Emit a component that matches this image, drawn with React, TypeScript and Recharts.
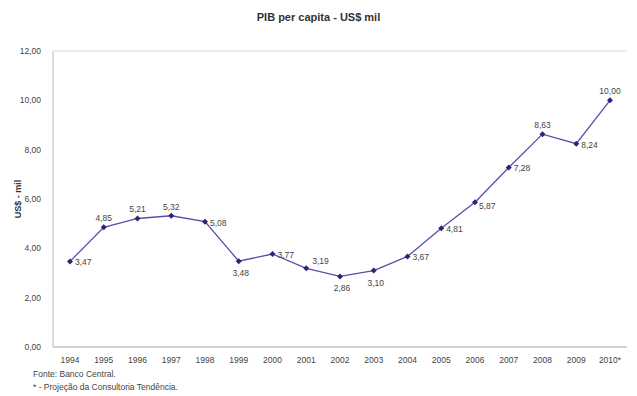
import React from "react";
import { LineChart, Line, XAxis, YAxis, CartesianGrid, Label } from "recharts";

const years = ["1994","1995","1996","1997","1998","1999","2000","2001","2002","2003","2004","2005","2006","2007","2008","2009","2010*"];
const values = [3.47,4.85,5.21,5.32,5.08,3.48,3.77,3.19,2.86,3.10,3.67,4.81,5.87,7.28,8.63,8.24,10.00];
const yTicks = [0,2,4,6,8,10,12];
const labelPlacement = ["right","above","above","above","right","below","right","rightUp","below","below","right","right","rightDown","right","above","right","above"];

const data = years.map((y, i) => ({ year: y, value: values[i] }));
const fmt = (v: number) => v.toFixed(2).replace(".", ",");

const Diamond = (props: any) => {
  const { cx, cy } = props;
  if (cx == null || cy == null) return null;
  const s = 3;
  return <path d={`M${cx},${cy - s}L${cx + s},${cy}L${cx},${cy + s}L${cx - s},${cy}Z`} fill="#2b2478" />;
};

const PointLabel = (props: any) => {
  const { x, y, index, value } = props;
  const p = labelPlacement[index];
  let tx = x, ty = y, anchor: any = "middle";
  if (p === "right") { tx = x + 5; ty = y + 4; anchor = "start"; }
  else if (p === "rightUp") { tx = x + 6; ty = y - 4; anchor = "start"; }
  else if (p === "rightDown") { tx = x + 4; ty = y + 7; anchor = "start"; }
  else if (p === "above") { ty = y - 6; }
  else if (p === "below") { tx = x + 2; ty = y + 15; }
  return <text x={tx} y={ty} textAnchor={anchor} fontSize={8.5} fill="#444" fontFamily="Liberation Sans, Arial, sans-serif">{fmt(value)}</text>;
};

export default function App() {
  return (
    <div style={{ position: "absolute", left: 0, top: 0, width: 637, height: 396, background: "#fff", fontFamily: "Liberation Sans, Arial, sans-serif" }}>
      <div style={{ position: "absolute", top: 11, left: 0, width: 637, textAlign: "center", fontSize: 11, fontWeight: "bold", color: "#333" }}>
        PIB per capita - US$ mil
      </div>
      <LineChart width={637} height={396} data={data} margin={{ top: 51, right: 10, bottom: 31, left: 0 }}>
        <CartesianGrid vertical={false} stroke="#d9d9d9" />
        <XAxis dataKey="year" tickLine={false} axisLine={{ stroke: "#bbb" }} height={18} interval={0}
          padding={{ left: 17, right: 17 }} tick={{ fontSize: 8.5, fill: "#444" }} tickMargin={4} />
        <YAxis yAxisId="l" domain={[0, 12]} ticks={yTicks} tickFormatter={fmt} width={53} tickLine={false}
          axisLine={{ stroke: "#bbb" }} tick={{ fontSize: 8.5, fill: "#444" }} tickMargin={6}>
          <Label value="US$ - mil" angle={-90} position="insideLeft" offset={18} style={{ fontSize: 9, fontWeight: "bold", fill: "#333", textAnchor: "middle" }} />
        </YAxis>
        <YAxis yAxisId="r" orientation="right" domain={[0, 12]} width={0} tick={false} tickLine={false} axisLine={{ stroke: "#ccc" }} />
        <Line yAxisId="l" dataKey="value" stroke="#5a4fa6" strokeWidth={1.3} dot={<Diamond />} activeDot={false}
          isAnimationActive={false} label={<PointLabel />} />
      </LineChart>
      <div style={{ position: "absolute", left: 33, top: 368, fontSize: 8.5, color: "#444", lineHeight: "13px" }}>
        <div>Fonte: Banco Central.</div>
        <div>* - Projeção da Consultoria Tendência.</div>
      </div>
    </div>
  );
}
